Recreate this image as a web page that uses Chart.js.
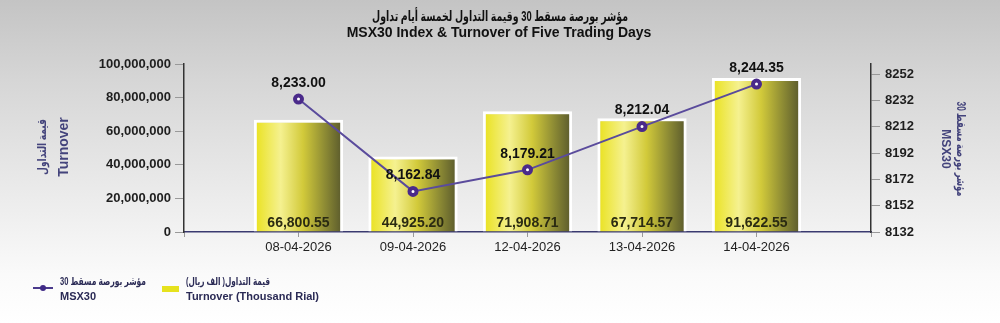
<!DOCTYPE html>
<html>
<head>
<meta charset="utf-8">
<script src="https://cdn.jsdelivr.net/npm/chart.js@4/dist/chart.umd.min.js"></script>
<style>
  html, body { margin: 0; padding: 0; }
  body { width: 1000px; height: 323px; overflow: hidden;
    background: linear-gradient(to bottom, #c4c4c4 0%, #d6d6d6 25%, #ebebeb 60%, #fafafa 85%, #ffffff 100%); }
  canvas { display: block; }
</style>
</head>
<body>
<canvas id="c" width="1000" height="323"></canvas>
<script>
const categories = ['08-04-2026', '09-04-2026', '12-04-2026', '13-04-2026', '14-04-2026'];
const turnoverThousandRial = [66800.55, 44925.20, 71908.71, 67714.57, 91622.55];
const msx30Index = [8233.00, 8162.84, 8179.21, 8212.04, 8244.35];
const leftTicks = [0, 20000000, 40000000, 60000000, 80000000, 100000000];
const rightTicks = [8132, 8152, 8172, 8192, 8212, 8232, 8252];

const titleAr = 'مؤشر بورصة مسقط 30 وقيمة التداول لخمسة أيام تداول';
const titleEn = 'MSX30 Index & Turnover of Five Trading Days';
const leftTitleAr = 'قيمة التداول';
const leftTitleEn = 'Turnover';
const rightTitleAr = 'مؤشر بورصة مسقط 30';
const rightTitleEn = 'MSX30';
const legendLineAr = 'مؤشر بورصة مسقط 30';
const legendLineEn = 'MSX30';
const legendBarAr = 'قيمة التداول( الف ريال)';
const legendBarEn = 'Turnover (Thousand Rial)';

const FONT = "'Liberation Sans', 'DejaVu Sans', Arial, sans-serif";

const xLabels = [''].concat(categories, ['']);
const barData = [null].concat(turnoverThousandRial.map(v => v * 1000), [null]);
const lineData = [null].concat(msx30Index, [null]);

function fmt2(v) { return v.toLocaleString('en-US', { minimumFractionDigits: 2, maximumFractionDigits: 2 }); }

function barGradient(context) {
  const chart = context.chart;
  const xs = chart.scales.x;
  if (!xs || !chart.chartArea) return '#e8e020';
  const cx = xs.getPixelForValue(context.dataIndex);
  const w = (xs.width / (xLabels.length - 1)) * 0.78;
  const g = chart.ctx.createLinearGradient(cx - w / 2, 0, cx + w / 2, 0);
  g.addColorStop(0, '#e9e11a');
  g.addColorStop(0.3, '#f5f190');
  g.addColorStop(0.55, '#d2ca3a');
  g.addColorStop(0.8, '#8c8a34');
  g.addColorStop(1, '#57572c');
  return g;
}

// Draw Arabic (rtl) text squeezed to a target width, centred at (cx, cy) in current transform
function drawArabicFit(ctx, text, cx, cy, targetW, font) {
  ctx.save();
  ctx.font = font;
  ctx.direction = 'rtl';
  ctx.textAlign = 'center';
  ctx.textBaseline = 'middle';
  const w = ctx.measureText(text).width;
  const sx = Math.min(1, targetW / w);
  ctx.translate(cx, cy);
  ctx.scale(sx, 1);
  ctx.fillText(text, 0, 0);
  ctx.restore();
}

const decorPlugin = {
  id: 'decor',
  afterDraw(chart) {
    const ctx = chart.ctx;
    ctx.save();
    // Title
    ctx.fillStyle = '#111';
    drawArabicFit(ctx, titleAr, 500, 17, 256, 'bold 14px ' + FONT);
    ctx.textAlign = 'center';
    ctx.textBaseline = 'middle';
    ctx.direction = 'ltr';
    ctx.font = 'bold 14px ' + FONT;
    ctx.fillText(titleEn, 499, 33);

    // Left axis title (rotated -90)
    ctx.fillStyle = '#44447c';
    ctx.save();
    ctx.translate(54, 147);
    ctx.rotate(-Math.PI / 2);
    drawArabicFit(ctx, leftTitleAr, 0, -11, 56, 'bold 12px ' + FONT);
    ctx.direction = 'ltr';
    ctx.textAlign = 'center';
    ctx.textBaseline = 'middle';
    ctx.font = 'bold 14px ' + FONT;
    ctx.fillText(leftTitleEn, 0, 10);
    ctx.restore();

    // Right axis title (rotated +90)
    ctx.save();
    ctx.translate(952, 149);
    ctx.rotate(Math.PI / 2);
    drawArabicFit(ctx, rightTitleAr, 0, -8, 95, 'bold 12px ' + FONT);
    ctx.direction = 'ltr';
    ctx.textAlign = 'center';
    ctx.textBaseline = 'middle';
    ctx.font = 'bold 12px ' + FONT;
    ctx.fillText(rightTitleEn, 0, 7);
    ctx.restore();

    // Legend
    ctx.strokeStyle = '#4a3a8c';
    ctx.lineWidth = 2;
    ctx.beginPath(); ctx.moveTo(33, 288); ctx.lineTo(53, 288); ctx.stroke();
    ctx.fillStyle = '#3f2a86';
    ctx.beginPath(); ctx.arc(43, 288, 3, 0, Math.PI * 2); ctx.fill();
    ctx.fillStyle = '#e6e21e';
    ctx.fillRect(162, 286, 17, 6);

    ctx.fillStyle = '#2a2a55';
    drawArabicFit(ctx, legendLineAr, 60 + 43, 282, 86, 'bold 11px ' + FONT);
    drawArabicFit(ctx, legendBarAr, 186 + 42, 282, 84, 'bold 11px ' + FONT);
    ctx.direction = 'ltr';
    ctx.textAlign = 'left';
    ctx.textBaseline = 'middle';
    ctx.font = 'bold 11px ' + FONT;
    ctx.fillText(legendLineEn, 60, 297);
    ctx.fillText(legendBarEn, 186, 297);

    ctx.restore();
  },
  afterDatasetsDraw(chart) {
    const ctx = chart.ctx;
    ctx.save();
    ctx.textAlign = 'center';
    ctx.textBaseline = 'middle';
    ctx.font = 'bold 14px ' + FONT;
    const barMeta = chart.getDatasetMeta(0);
    barMeta.data.forEach((el, i) => {
      if (barData[i] == null) return;
      ctx.fillStyle = '#2b2b12';
      ctx.fillText(fmt2(barData[i] / 1000), el.x, 223);
    });
    const lineMeta = chart.getDatasetMeta(1);
    lineMeta.data.forEach((el, i) => {
      if (lineData[i] == null) return;
      ctx.fillStyle = '#111';
      ctx.fillText(fmt2(lineData[i]), el.x, el.y - 16);
    });
    ctx.restore();
  }
};

new Chart(document.getElementById('c'), {
  type: 'bar',
  data: {
    labels: xLabels,
    datasets: [
      {
        type: 'bar',
        label: 'Turnover (Thousand Rial)',
        data: barData,
        yAxisID: 'y',
        backgroundColor: barGradient,
        borderColor: '#ffffff',
        borderWidth: { top: 3, left: 3, right: 3, bottom: 0 },
        borderSkipped: 'bottom',
        categoryPercentage: 1,
        barPercentage: 0.78,
        order: 1
      },
      {
        type: 'line',
        label: 'MSX30',
        data: lineData,
        yAxisID: 'y1',
        borderColor: '#5a4b9c',
        borderWidth: 2,
        pointRadius: 3.5,
        pointBorderWidth: 4,
        pointBackgroundColor: '#ffffff',
        pointBorderColor: '#4a2a8a',
        spanGaps: false,
        tension: 0,
        order: 0
      }
    ]
  },
  options: {
    responsive: false,
    animation: false,
    devicePixelRatio: 1,
    layout: { padding: { top: 64, left: 0, right: 0, bottom: 0 } },
    plugins: { legend: { display: false }, tooltip: { enabled: false }, title: { display: false } },
    scales: {
      x: {
        offset: false,
        grid: { display: true, offset: false, drawOnChartArea: false, tickLength: 5, color: '#999' },
        border: { display: true, color: '#3a3a70', width: 1.5 },
        ticks: { color: '#222', font: { family: FONT, size: 13 }, maxRotation: 0, autoSkip: false, padding: 3 },
        afterFit(s) { s.height = 91; }
      },
      y: {
        position: 'left',
        min: 0,
        max: 100000000,
        afterBuildTicks(s) { s.ticks = leftTicks.map(v => ({ value: v })); },
        grid: { display: true, drawOnChartArea: false, tickLength: 9, color: '#999' },
        border: { display: true, color: '#333', width: 1.5 },
        ticks: { color: '#1e1e1e', font: { family: FONT, size: 13, weight: 'bold' }, padding: 4,
          callback: v => v.toLocaleString('en-US') },
        afterFit(s) { s.width = 184; }
      },
      y1: {
        position: 'right',
        min: 8132,
        max: 8259.6,
        afterBuildTicks(s) { s.ticks = rightTicks.map(v => ({ value: v })); },
        grid: { display: true, drawOnChartArea: false, tickLength: 9, color: '#999' },
        border: { display: true, color: '#333', width: 1.5 },
        ticks: { color: '#1e1e1e', font: { family: FONT, size: 13, weight: 'bold' }, padding: 5,
          callback: v => String(v) },
        afterFit(s) { s.width = 129; }
      }
    }
  },
  plugins: [decorPlugin]
});
</script>
</body>
</html>
